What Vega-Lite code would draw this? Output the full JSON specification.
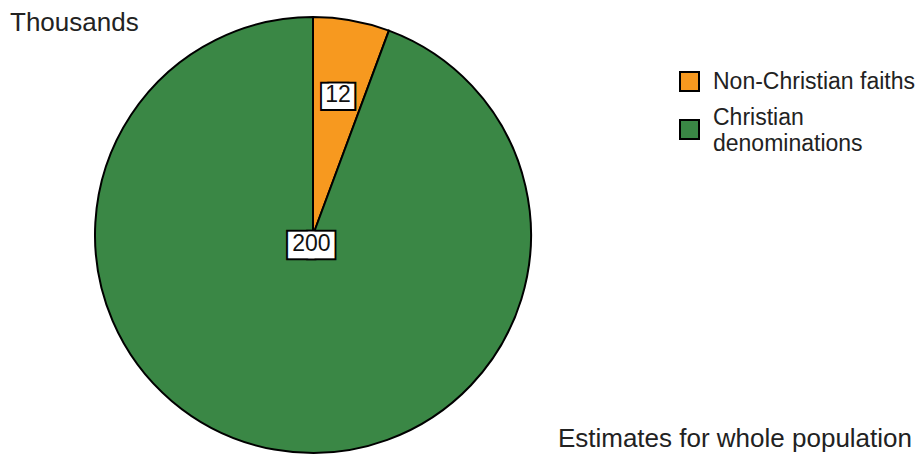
{
  "$schema": "https://vega.github.io/schema/vega-lite/v6.json",
  "padding": {"left": 10, "top": 10, "right": 0, "bottom": 0},
  "config": {"view": {"stroke": null}, "font": "Liberation Sans", "style": {"guide-label": {"lineHeight": 26}}},
  "title": {"text": "Thousands", "anchor": "start", "fontSize": 26, "fontWeight": "normal", "color": "#222222", "font": "Liberation Sans", "dx": -81, "offset": -23},
  "data": {"values": [
    {"category": "Non-Christian faiths", "value": 12, "order": 1},
    {"category": "Christian denominations", "value": 200, "order": 2}
  ]},
  "vconcat": [{
    "width": 436,
    "height": 436,
    "title": {"text": "Estimates for whole population", "orient": "bottom", "anchor": "end", "fontSize": 26, "fontWeight": "normal", "color": "#222222", "font": "Liberation Sans", "dx": 377, "offset": -31},
    "encoding": {
      "theta": {"field": "value", "type": "quantitative", "stack": true},
      "order": {"field": "order", "type": "quantitative"}
    },
    "layer": [
      {
        "mark": {"type": "arc", "stroke": "#000000", "strokeWidth": 2},
        "encoding": {
          "color": {"field": "category", "type": "nominal",
            "scale": {"domain": ["Non-Christian faiths", "Christian denominations"], "range": ["#f7991f", "#3a8745"]},
            "legend": {"orient": "none", "legendX": 583, "legendY": 53, "title": null, "symbolType": "square", "symbolSize": 361, "symbolStrokeColor": "#000000", "symbolStrokeWidth": 2, "symbolOpacity": 1, "labelFontSize": 23, "labelColor": "#222222", "labelFont": "Liberation Sans", "labelOffset": 12, "rowPadding": 11, "labelLimit": 300,
              "labelExpr": "datum.label == 'Christian denominations' ? ['Christian', 'denominations'] : datum.label",
              "encode": {"labels": {"update": {"dy": {"signal": "datum.value == 'Christian denominations' ? -12 : 0"}}}}}
          }
        }
      },
      {"mark": {"type": "text", "radius": 142, "fontSize": 33, "font": "DejaVu Sans", "fill": "#000000", "stroke": "#000000", "strokeWidth": 4, "baseline": "middle", "dx": -3.5},
       "encoding": {"text": {"condition": {"test": "datum.order == 1", "value": "■"}, "value": ""}}},
      {"mark": {"type": "text", "radius": 142, "fontSize": 33, "font": "DejaVu Sans", "fill": "#000000", "stroke": "#000000", "strokeWidth": 4, "baseline": "middle", "dx": 3.5},
       "encoding": {"text": {"condition": {"test": "datum.order == 1", "value": "■"}, "value": ""}}},
      {"mark": {"type": "text", "radius": 142, "fontSize": 33, "font": "DejaVu Sans", "fill": "#ffffff", "baseline": "middle", "dx": -3.5},
       "encoding": {"text": {"condition": {"test": "datum.order == 1", "value": "■"}, "value": ""}}},
      {"mark": {"type": "text", "radius": 142, "fontSize": 33, "font": "DejaVu Sans", "fill": "#ffffff", "baseline": "middle", "dx": 3.5},
       "encoding": {"text": {"condition": {"test": "datum.order == 1", "value": "■"}, "value": ""}}},
      {"mark": {"type": "text", "radius": 142, "fontSize": 23, "color": "#111111", "font": "Liberation Sans", "baseline": "middle"},
       "encoding": {"text": {"condition": {"test": "datum.order == 1", "field": "value", "type": "quantitative"}, "value": ""}}},
      {"mark": {"type": "text", "radius": 9, "fontSize": 34.5, "font": "DejaVu Sans", "fill": "#000000", "stroke": "#000000", "strokeWidth": 4, "baseline": "middle", "dx": -10},
       "encoding": {"text": {"condition": {"test": "datum.order == 2", "value": "■"}, "value": ""}}},
      {"mark": {"type": "text", "radius": 9, "fontSize": 34.5, "font": "DejaVu Sans", "fill": "#000000", "stroke": "#000000", "strokeWidth": 4, "baseline": "middle", "dx": 10},
       "encoding": {"text": {"condition": {"test": "datum.order == 2", "value": "■"}, "value": ""}}},
      {"mark": {"type": "text", "radius": 9, "fontSize": 34.5, "font": "DejaVu Sans", "fill": "#ffffff", "baseline": "middle", "dx": -10},
       "encoding": {"text": {"condition": {"test": "datum.order == 2", "value": "■"}, "value": ""}}},
      {"mark": {"type": "text", "radius": 9, "fontSize": 34.5, "font": "DejaVu Sans", "fill": "#ffffff", "baseline": "middle", "dx": 10},
       "encoding": {"text": {"condition": {"test": "datum.order == 2", "value": "■"}, "value": ""}}},
      {"mark": {"type": "text", "radius": 9, "fontSize": 23, "color": "#111111", "font": "Liberation Sans", "baseline": "middle"},
       "encoding": {"text": {"condition": {"test": "datum.order == 2", "field": "value", "type": "quantitative"}, "value": ""}}}
    ]
  }]
}
